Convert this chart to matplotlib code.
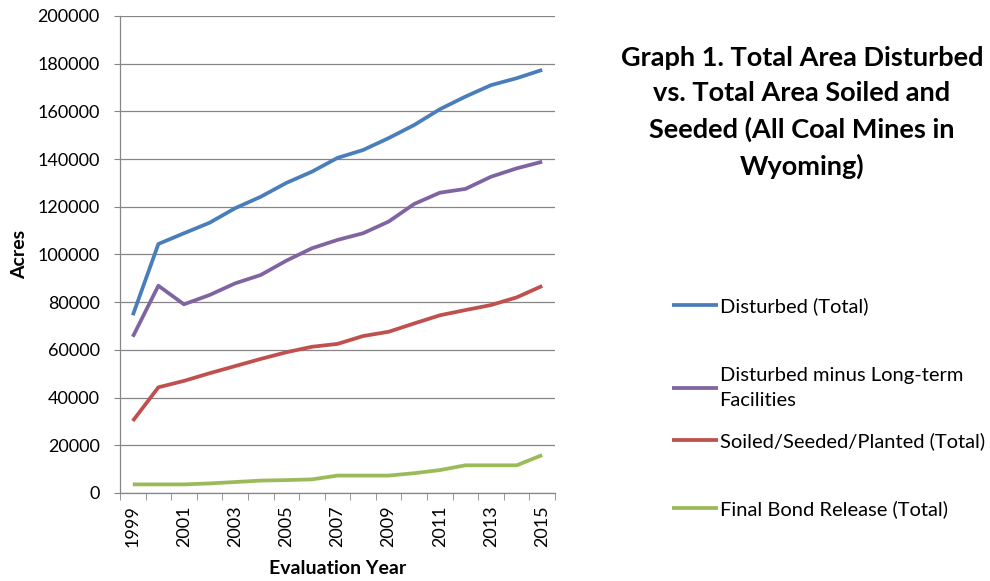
import numpy as np
import matplotlib
matplotlib.use('Agg')
import matplotlib.pyplot as plt

# Data (acres)
years = list(range(1999, 2016))
disturbed = [74500, 104400, 108900, 113300, 119400, 124200, 130000, 134700, 140500,
             143800, 148800, 154300, 160900, 166200, 171000, 173900, 177400]
disturbed_minus_lt = [65500, 86900, 79100, 83000, 87900, 91400, 97400, 102600, 106100,
                      108900, 113800, 121200, 125900, 127500, 132600, 136100, 138900]
soiled_seeded = [30200, 44300, 47000, 50200, 53200, 56200, 59000, 61300, 62500,
                 65800, 67600, 71100, 74500, 76700, 78800, 82000, 86800]
final_bond = [3600, 3600, 3600, 4000, 4600, 5200, 5400, 5700, 7300,
              7300, 7300, 8300, 9600, 11600, 11600, 11600, 15900]

series_labels = ['Disturbed (Total)',
                 'Disturbed minus Long-term\nFacilities',
                 'Soiled/Seeded/Planted (Total)',
                 'Final Bond Release (Total)']
colors = ['#4A7EBB', '#8064A2', '#C0504D', '#9BBB59']

plt.rcParams['font.family'] = ['Lato', 'DejaVu Sans']

fig = plt.figure(figsize=(9.9, 5.81), dpi=100)
ax = fig.add_axes([0.1212, 0.1515, 0.4394, 0.8210])

x = np.arange(len(years))
all_series = [disturbed, disturbed_minus_lt, soiled_seeded, final_bond]
lines = []
for vals, lab, c in zip(all_series, series_labels, colors):
    ln, = ax.plot(x, vals, color=c, lw=2.7, label=lab, solid_capstyle='butt')
    lines.append(ln)

ax.set_xlim(-0.5, len(years) - 0.5)
ax.set_ylim(0, 200000)
ax.set_yticks(np.arange(0, 200001, 20000))
ax.tick_params(axis='y', labelsize=13, length=4.5, color='#868686', pad=10)

# category labels at every other year, tick marks between categories
ax.set_xticks(x[::2])
ax.set_xticklabels([str(y) for y in years[::2]], rotation=90, fontsize=13)
ax.set_xticks(np.arange(-0.5, len(years)), minor=True)
ax.tick_params(axis='x', which='major', length=0, pad=9)
ax.tick_params(axis='x', which='minor', length=5, color='#868686')

ax.grid(True, axis='y', color='#868686', lw=0.9)
ax.set_axisbelow(True)
for side in ['top', 'right']:
    ax.spines[side].set_visible(False)
for side in ['left', 'bottom']:
    ax.spines[side].set_color('#868686')
    ax.spines[side].set_linewidth(0.9)

ax.set_ylabel('Acres', fontsize=14, fontweight='bold', labelpad=7)
ax.set_xlabel('Evaluation Year', fontsize=14, fontweight='bold', labelpad=9)

# legend in two groups to mimic the uneven spacing of the original
leg_kw = dict(loc='upper left', frameon=False, fontsize=14.5, handlelength=2.25,
              handletextpad=0.1, borderaxespad=0, borderpad=0,
              bbox_transform=fig.transFigure)
leg1 = ax.legend(lines[:2], series_labels[:2], bbox_to_anchor=(0.679, 0.489),
                 labelspacing=2.6, **leg_kw)
for t in leg1.get_texts():
    t.set_linespacing(1.55)
ax.add_artist(leg1)
ax.legend(lines[2:], series_labels[2:], bbox_to_anchor=(0.679, 0.256),
          labelspacing=2.5, **leg_kw)

fig.text(0.810, 0.921, 'Graph 1. Total Area Disturbed\nvs. Total Area Soiled and\n'
         'Seeded (All Coal Mines in\nWyoming)',
         ha='center', va='top', fontsize=19.5, fontweight='bold', linespacing=1.55)

fig.savefig('out.png', dpi=100)
